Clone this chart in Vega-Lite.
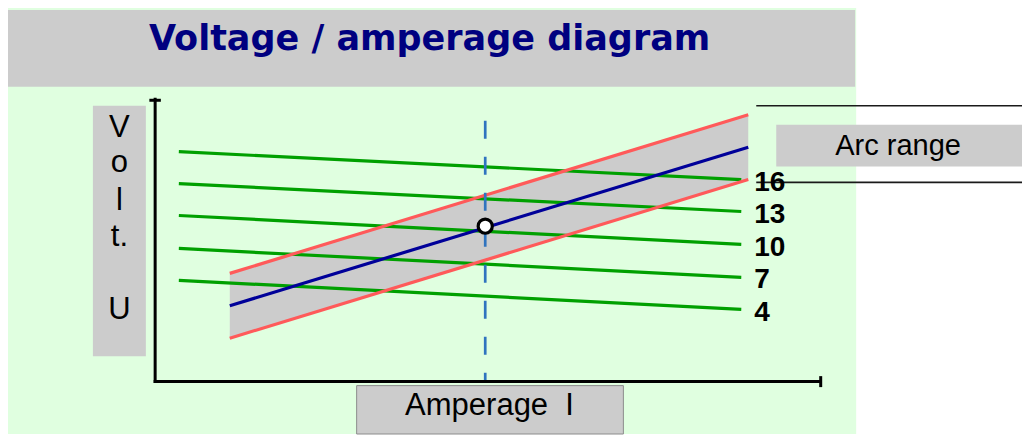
{
  "$schema": "https://vega.github.io/schema/vega-lite/v6.json",
  "width": 1023,
  "height": 435,
  "autosize": {"type": "fit", "contains": "padding"},
  "padding": 0,
  "background": "white",
  "config": {"view": {"stroke": null}},
  "datasets": {
    "boxes": [
      {"box": "panel", "x": 8, "x2": 857, "y": 8, "y2": 435},
      {"box": "title", "x": 8, "x2": 856, "y": 10, "y2": 87},
      {"box": "ylab", "x": 93, "x2": 146, "y": 106, "y2": 357},
      {"box": "arc", "x": 777, "x2": 1023, "y": 125, "y2": 167}
    ],
    "ampbox": [{"x": 357, "x2": 624, "y": 386.5, "y2": 435}],
    "band": [
      {"x": 230, "y": 274, "y2": 339},
      {"x": 749, "y": 115, "y2": 180}
    ],
    "green": [
      {"series": "16", "x": 179, "y": 152}, {"series": "16", "x": 742, "y": 180},
      {"series": "13", "x": 179, "y": 184}, {"series": "13", "x": 742, "y": 212},
      {"series": "10", "x": 179, "y": 216}, {"series": "10", "x": 742, "y": 245},
      {"series": "7", "x": 179, "y": 249}, {"series": "7", "x": 742, "y": 278},
      {"series": "4", "x": 179, "y": 281}, {"series": "4", "x": 742, "y": 310}
    ],
    "red": [
      {"series": "upper", "x": 230, "y": 274}, {"series": "upper", "x": 749, "y": 115},
      {"series": "lower", "x": 230, "y": 339}, {"series": "lower", "x": 749, "y": 180}
    ],
    "blue": [
      {"x": 230, "y": 306.5}, {"x": 749, "y": 147.5}
    ],
    "dash": [{"x": 485.7, "y": 121, "y2": 382}],
    "point": [{"x": 485.7, "y": 226.7}],
    "axes": [
      {"x": 155.3, "y": 98, "x2": 155.3, "y2": 383.8},
      {"x": 153.8, "y": 382.3, "x2": 822, "y2": 382.3},
      {"x": 149.5, "y": 100.5, "x2": 161, "y2": 100.5},
      {"x": 821.5, "y": 377, "x2": 821.5, "y2": 388}
    ],
    "thin": [
      {"x": 757, "y": 106, "x2": 1023, "y2": 106},
      {"x": 757, "y": 182.7, "x2": 1023, "y2": 182.7}
    ],
    "title": [{"label": "Voltage / amperage diagram", "x": 430, "y": 50}],
    "ylab": [
      {"label": "V", "x": 119.5, "y": 137},
      {"label": "o", "x": 119.5, "y": 172},
      {"label": "l", "x": 119.5, "y": 210},
      {"label": "t.", "x": 119.5, "y": 247},
      {"label": "U", "x": 119.5, "y": 320}
    ],
    "amp": [{"label": "Amperage\u00a0\u00a0I", "x": 490, "y": 416}],
    "arc": [{"label": "Arc range", "x": 899, "y": 155}],
    "nums": [
      {"label": "16", "x": 755, "y": 191},
      {"label": "13", "x": 755, "y": 224},
      {"label": "10", "x": 755, "y": 257},
      {"label": "7", "x": 755, "y": 289},
      {"label": "4", "x": 755, "y": 322}
    ]
  },
  "layer": [
    {
      "data": {"name": "boxes"},
      "mark": {"type": "rect"},
      "encoding": {
        "x": {"field": "x", "type": "quantitative", "scale": {"domain": [0, 1023], "nice": false, "zero": false}, "axis": null},
        "x2": {"field": "x2"},
        "y": {"field": "y", "type": "quantitative", "scale": {"domain": [0, 435], "nice": false, "zero": false, "reverse": true}, "axis": null},
        "y2": {"field": "y2"},
        "color": {"field": "box", "type": "nominal", "scale": {"domain": ["panel", "title", "ylab", "arc"], "range": ["#e0ffe0", "#cccccc", "#cccccc", "#cccccc"]}, "legend": null}
      }
    },
    {
      "data": {"name": "ampbox"},
      "mark": {"type": "rect", "fill": "#cccccc", "stroke": "#8c8c8c", "strokeWidth": 1},
      "encoding": {
        "x": {"field": "x", "type": "quantitative", "scale": {"domain": [0, 1023], "nice": false, "zero": false}, "axis": null},
        "x2": {"field": "x2"},
        "y": {"field": "y", "type": "quantitative", "scale": {"domain": [0, 435], "nice": false, "zero": false, "reverse": true}, "axis": null},
        "y2": {"field": "y2"}
      }
    },
    {
      "data": {"name": "band"},
      "mark": {"type": "area", "color": "#cccccc", "opacity": 1},
      "encoding": {
        "x": {"field": "x", "type": "quantitative", "scale": {"domain": [0, 1023], "nice": false, "zero": false}, "axis": null},
        "y": {"field": "y", "type": "quantitative", "scale": {"domain": [0, 435], "nice": false, "zero": false, "reverse": true}, "axis": null},
        "y2": {"field": "y2"}
      }
    },
    {
      "data": {"name": "green"},
      "mark": {"type": "line", "color": "#00a000", "strokeWidth": 3.2},
      "encoding": {
        "x": {"field": "x", "type": "quantitative", "scale": {"domain": [0, 1023], "nice": false, "zero": false}, "axis": null},
        "y": {"field": "y", "type": "quantitative", "scale": {"domain": [0, 435], "nice": false, "zero": false, "reverse": true}, "axis": null},
        "detail": {"field": "series", "type": "nominal"}
      }
    },
    {
      "data": {"name": "red"},
      "mark": {"type": "line", "color": "#ff5a5a", "strokeWidth": 3.2},
      "encoding": {
        "x": {"field": "x", "type": "quantitative", "scale": {"domain": [0, 1023], "nice": false, "zero": false}, "axis": null},
        "y": {"field": "y", "type": "quantitative", "scale": {"domain": [0, 435], "nice": false, "zero": false, "reverse": true}, "axis": null},
        "detail": {"field": "series", "type": "nominal"}
      }
    },
    {
      "data": {"name": "blue"},
      "mark": {"type": "line", "color": "#000099", "strokeWidth": 3.2},
      "encoding": {
        "x": {"field": "x", "type": "quantitative", "scale": {"domain": [0, 1023], "nice": false, "zero": false}, "axis": null},
        "y": {"field": "y", "type": "quantitative", "scale": {"domain": [0, 435], "nice": false, "zero": false, "reverse": true}, "axis": null}
      }
    },
    {
      "data": {"name": "dash"},
      "mark": {"type": "rule", "color": "#3074bf", "strokeWidth": 2.7, "strokeDash": [18, 18]},
      "encoding": {
        "x": {"field": "x", "type": "quantitative", "scale": {"domain": [0, 1023], "nice": false, "zero": false}, "axis": null},
        "y": {"field": "y", "type": "quantitative", "scale": {"domain": [0, 435], "nice": false, "zero": false, "reverse": true}, "axis": null},
        "y2": {"field": "y2"}
      }
    },
    {
      "data": {"name": "point"},
      "mark": {"type": "point", "shape": "circle", "filled": false, "fill": "white", "fillOpacity": 1, "stroke": "black", "strokeWidth": 3.2, "size": 200, "opacity": 1},
      "encoding": {
        "x": {"field": "x", "type": "quantitative", "scale": {"domain": [0, 1023], "nice": false, "zero": false}, "axis": null},
        "y": {"field": "y", "type": "quantitative", "scale": {"domain": [0, 435], "nice": false, "zero": false, "reverse": true}, "axis": null}
      }
    },
    {
      "data": {"name": "axes"},
      "mark": {"type": "rule", "color": "black", "strokeWidth": 3},
      "encoding": {
        "x": {"field": "x", "type": "quantitative", "scale": {"domain": [0, 1023], "nice": false, "zero": false}, "axis": null},
        "x2": {"field": "x2"},
        "y": {"field": "y", "type": "quantitative", "scale": {"domain": [0, 435], "nice": false, "zero": false, "reverse": true}, "axis": null},
        "y2": {"field": "y2"}
      }
    },
    {
      "data": {"name": "thin"},
      "mark": {"type": "rule", "color": "#1a1a1a", "strokeWidth": 1.7},
      "encoding": {
        "x": {"field": "x", "type": "quantitative", "scale": {"domain": [0, 1023], "nice": false, "zero": false}, "axis": null},
        "x2": {"field": "x2"},
        "y": {"field": "y", "type": "quantitative", "scale": {"domain": [0, 435], "nice": false, "zero": false, "reverse": true}, "axis": null},
        "y2": {"field": "y2"}
      }
    },
    {
      "data": {"name": "title"},
      "mark": {"type": "text", "font": "DejaVu Sans", "fontWeight": "bold", "fontSize": 35, "color": "#000080", "align": "center", "baseline": "alphabetic"},
      "encoding": {
        "x": {"field": "x", "type": "quantitative", "scale": {"domain": [0, 1023], "nice": false, "zero": false}, "axis": null},
        "y": {"field": "y", "type": "quantitative", "scale": {"domain": [0, 435], "nice": false, "zero": false, "reverse": true}, "axis": null},
        "text": {"field": "label", "type": "nominal"}
      }
    },
    {
      "data": {"name": "ylab"},
      "mark": {"type": "text", "font": "Liberation Sans", "fontSize": 31, "color": "black", "align": "center", "baseline": "alphabetic"},
      "encoding": {
        "x": {"field": "x", "type": "quantitative", "scale": {"domain": [0, 1023], "nice": false, "zero": false}, "axis": null},
        "y": {"field": "y", "type": "quantitative", "scale": {"domain": [0, 435], "nice": false, "zero": false, "reverse": true}, "axis": null},
        "text": {"field": "label", "type": "nominal"}
      }
    },
    {
      "data": {"name": "amp"},
      "mark": {"type": "text", "font": "Liberation Sans", "fontSize": 31, "color": "black", "align": "center", "baseline": "alphabetic"},
      "encoding": {
        "x": {"field": "x", "type": "quantitative", "scale": {"domain": [0, 1023], "nice": false, "zero": false}, "axis": null},
        "y": {"field": "y", "type": "quantitative", "scale": {"domain": [0, 435], "nice": false, "zero": false, "reverse": true}, "axis": null},
        "text": {"field": "label", "type": "nominal"}
      }
    },
    {
      "data": {"name": "arc"},
      "mark": {"type": "text", "font": "Liberation Sans", "fontSize": 29, "color": "black", "align": "center", "baseline": "alphabetic"},
      "encoding": {
        "x": {"field": "x", "type": "quantitative", "scale": {"domain": [0, 1023], "nice": false, "zero": false}, "axis": null},
        "y": {"field": "y", "type": "quantitative", "scale": {"domain": [0, 435], "nice": false, "zero": false, "reverse": true}, "axis": null},
        "text": {"field": "label", "type": "nominal"}
      }
    },
    {
      "data": {"name": "nums"},
      "mark": {"type": "text", "font": "Liberation Sans", "fontWeight": "bold", "fontSize": 28, "color": "black", "align": "left", "baseline": "alphabetic"},
      "encoding": {
        "x": {"field": "x", "type": "quantitative", "scale": {"domain": [0, 1023], "nice": false, "zero": false}, "axis": null},
        "y": {"field": "y", "type": "quantitative", "scale": {"domain": [0, 435], "nice": false, "zero": false, "reverse": true}, "axis": null},
        "text": {"field": "label", "type": "nominal"}
      }
    }
  ]
}
